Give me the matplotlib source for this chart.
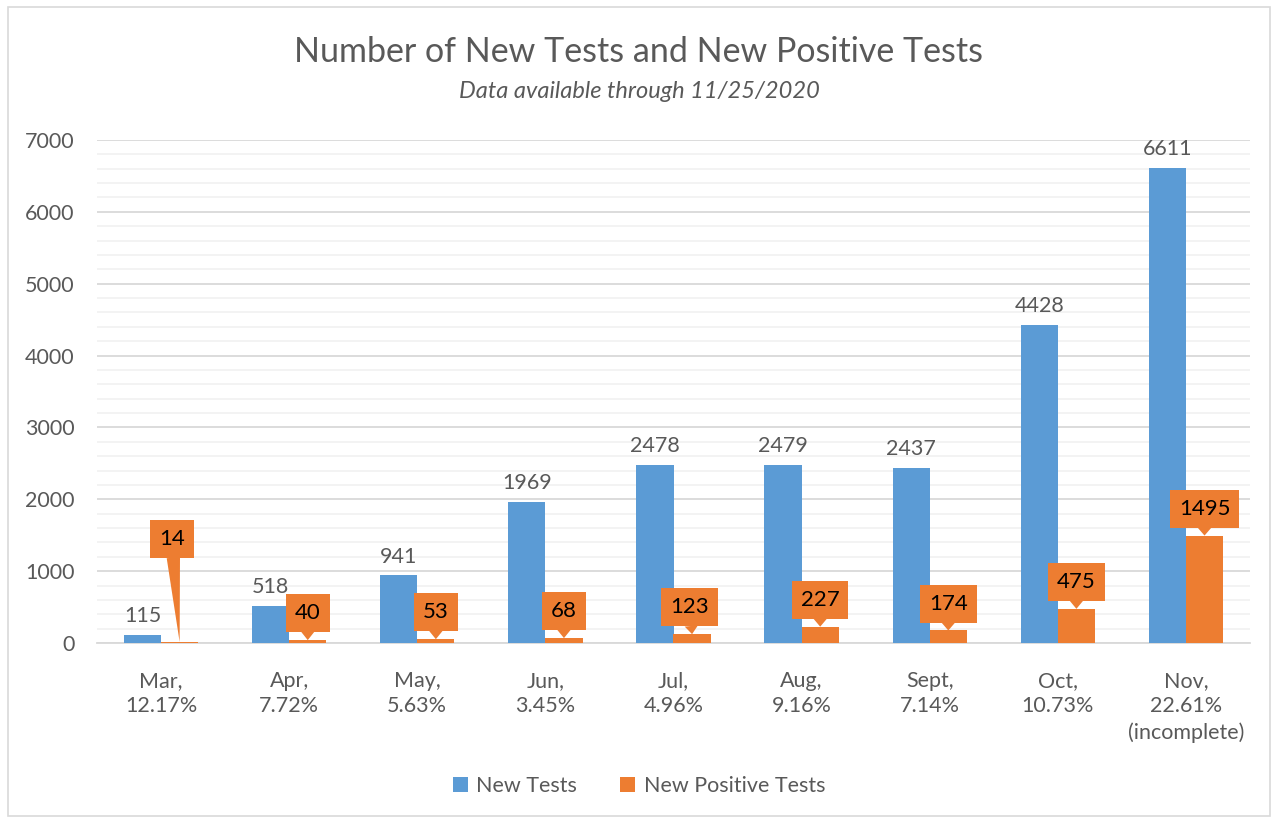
import matplotlib.pyplot as plt
from matplotlib.patches import Rectangle
from matplotlib.ticker import MultipleLocator
import numpy as np

plt.rcParams['font.family'] = ['Lato', 'DejaVu Sans']

months = ["Mar,\n12.17%", "Apr,\n7.72%", "May,\n5.63%", "Jun,\n3.45%", "Jul,\n4.96%",
          "Aug,\n9.16%", "Sept,\n7.14%", "Oct,\n10.73%", "Nov,\n22.61%\n(incomplete)"]
new_tests = [115, 518, 941, 1969, 2478, 2479, 2437, 4428, 6611]
new_positive = [14, 40, 53, 68, 123, 227, 174, 475, 1495]

# where the callout boxes sit (offset in x, box centre in y)
call_dx = [-0.06, 0.0, 0.0, 0.0, -0.02, 0.0, 0.0, 0.0, 0.0]
call_y = [1450, 420, 430, 445, 500, 600, 545, 850, 1865]

blue = "#5B9BD5"
orange = "#ED7D31"
gray = "#595959"

fig = plt.figure(figsize=(12.78, 8.21), dpi=100)
fig.patches.append(Rectangle((0.006, 0.006), 0.988, 0.985, transform=fig.transFigure,
                             fill=False, ec="#D9D9D9", lw=1.2))
ax = fig.add_axes([97/1278, 1-643/821, (1250-97)/1278, (643-140)/821])

x = np.arange(len(months))
w = 0.29
ax.bar(x - w/2, new_tests, w, color=blue, label="New Tests", zorder=3)
ax.bar(x + w/2, new_positive, w, color=orange, label="New Positive Tests", zorder=3)

ax.set_ylim(0, 7000)
ax.set_xlim(-0.5, len(months) - 0.5)
ax.yaxis.set_major_locator(MultipleLocator(1000))
ax.yaxis.set_minor_locator(MultipleLocator(200))
ax.grid(axis="y", which="major", color="#D9D9D9", lw=1.3, zorder=0)
ax.grid(axis="y", which="minor", color="#F2F2F2", lw=1.3, zorder=0)
for s in ["top", "right", "left"]:
    ax.spines[s].set_visible(False)
ax.spines["bottom"].set_color("#D9D9D9")
ax.spines["bottom"].set_linewidth(1.3)
ax.tick_params(axis="both", which="both", length=0, labelsize=15.5, labelcolor=gray)
ax.tick_params(axis="y", pad=16)
ax.tick_params(axis="x", pad=20)
ax.set_xticks(x)
ax.set_xticklabels(months, linespacing=1.35)

for xi, v in zip(x, new_tests):
    ax.text(xi - w/2, v + 120, str(v), ha="center", va="bottom", fontsize=15.5, color=gray)

for xi, v, dx, cy in zip(x, new_positive, call_dx, call_y):
    bx = xi + w/2
    ax.annotate(str(v), xy=(bx, v), xytext=(bx + dx, cy), ha="center", va="center",
                fontsize=16, color="black", zorder=5,
                bbox=dict(boxstyle="square,pad=0.4", fc=orange, ec="none"),
                arrowprops=dict(arrowstyle="wedge,tail_width=0.6", fc=orange, ec="none",
                                shrinkA=0, shrinkB=0))

fig.text(0.5, 1-52/821, "Number of New Tests and New Positive Tests", ha="center", va="center",
         fontsize=24.5, color=gray)
fig.text(0.5, 1-92/821, "Data available through 11/25/2020", ha="center", va="center",
         fontsize=17, color=gray, style="italic")

fig.legend(loc="center", bbox_to_anchor=(0.5, 1-786/821), ncol=2, frameon=False,
           fontsize=15.5, labelcolor=gray, handlelength=0.7, handleheight=0.7,
           handletextpad=0.4, columnspacing=2.0)

fig.savefig("out.png", dpi=100)
